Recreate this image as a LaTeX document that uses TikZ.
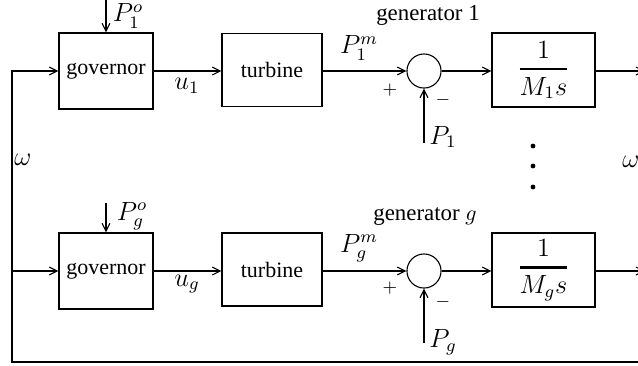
\documentclass[tikz,border=0pt]{standalone}
\usepackage{fontspec}
\setmainfont{Liberation Serif}
\usetikzlibrary{arrows.meta,calc}
\begin{document}
\begin{tikzpicture}[x=0.455pt,y=-0.455pt,
  line width=0.5pt,
  >={Straight Barb[length=3.6pt,width=3.6pt]},
  blk/.style={draw,rectangle,inner sep=0pt,font=\fontsize{10}{12}\selectfont},
  govbox/.style={blk,minimum width=42.8pt,minimum height=34.6pt},
  turbbox/.style={blk,minimum width=45.5pt,minimum height=33.2pt},
  massbox/.style={blk,minimum width=46.9pt,minimum height=33.7pt,font=\fontsize{11.5}{14}\selectfont},
  sumnode/.style={draw,circle,inner sep=0pt,minimum size=15.5pt},
  lbl/.style={inner sep=0pt,font=\fontsize{10.4}{12}\selectfont},
  mlbl/.style={inner sep=0pt,font=\fontsize{11.5}{14}\selectfont},
  sgn/.style={inner sep=0pt,font=\fontsize{8}{10}\selectfont},
  dotn/.style={fill,circle,inner sep=0pt,minimum size=2.2pt}]
\clip (0,0) rectangle (638,365);
% generator 1
\node[govbox]  (gov1)  at (106,71) {governor};
\node[turbbox] (turb1) at (272,70) {turbine};
\node[sumnode] (sum1)  at (424,71) {};
\node[massbox] (mass1) at (543.5,70) {$\displaystyle{1\above 1pt M_1s}$};
\coordinate (out1) at (645,71);
\coordinate (pref1) at (106,0);
\coordinate (pin1) at (424,143);
\draw[->] (pref1) -- (gov1.north);
\draw[->] (gov1.east) -- (turb1.west |- gov1.east);
\draw[->] (turb1.east |- sum1.west) -- (sum1.west);
\draw[->] (sum1.east) -- (mass1.west |- sum1.east);
\draw[->] (mass1.east |- sum1.east) -- (out1);
\draw[->] (pin1) -- (sum1.south);
\node[mlbl] (lpref1) at (128,16) {$P_1^o$};
\node[mlbl] (lu1) at (187,86) {$u_1$};
\node[mlbl] (lpm1) at (359,48) {$P_1^m$};
\node[lbl] (lgen1) at (428,15) {generator 1};
\node[sgn] (lplus1) at (390,90) {$+$};
\node[sgn] (lminus1) at (443,100) {$-$};
\node[mlbl] (lp1) at (443,137) {$P_1$};
% dots
\node[dotn] (d1) at (533,146) {};
\node[dotn] (d2) at (533,166) {};
\node[dotn] (d3) at (533,187) {};
\node[mlbl] (wl) at (23,160) {$\omega$};
\node[mlbl] (wr) at (631,162) {$\omega$};
% generator g
\node[govbox]  (gov2)  at (106,271) {governor};
\node[turbbox] (turb2) at (272,269.5) {turbine};
\node[sumnode] (sum2)  at (424,271) {};
\node[massbox] (mass2) at (543.5,270) {$\displaystyle{1\above 1pt M_gs}$};
\coordinate (out2) at (645,271);
\coordinate (pref2) at (106,203);
\coordinate (pin2) at (424,343);
\draw[->] (pref2) -- (gov2.north);
\draw[->] (gov2.east) -- (turb2.west |- gov2.east);
\draw[->] (turb2.east |- sum2.west) -- (sum2.west);
\draw[->] (sum2.east) -- (mass2.west |- sum2.east);
\draw[->] (mass2.east |- sum2.east) -- (out2);
\draw[->] (pin2) -- (sum2.south);
\node[mlbl] (lpref2) at (132,216) {$P_g^o$};
\node[mlbl] (lug) at (187,284) {$u_g$};
\node[mlbl] (lpm2) at (359,248) {$P_g^m$};
\node[lbl] (lgen2) at (425,217) {generator $g$};
\node[sgn] (lplus2) at (390,288) {$+$};
\node[sgn] (lminus2) at (443,302) {$-$};
\node[mlbl] (lpg) at (443,342) {$P_g$};
% feedback
\coordinate (fbR) at (645,362);
\coordinate (fbL) at (12,362);
\draw[->] (fbR) -- (fbL) |- (gov1.west);
\draw[->] (fbL |- gov2.west) -- (gov2.west);
\end{tikzpicture}
\end{document}
